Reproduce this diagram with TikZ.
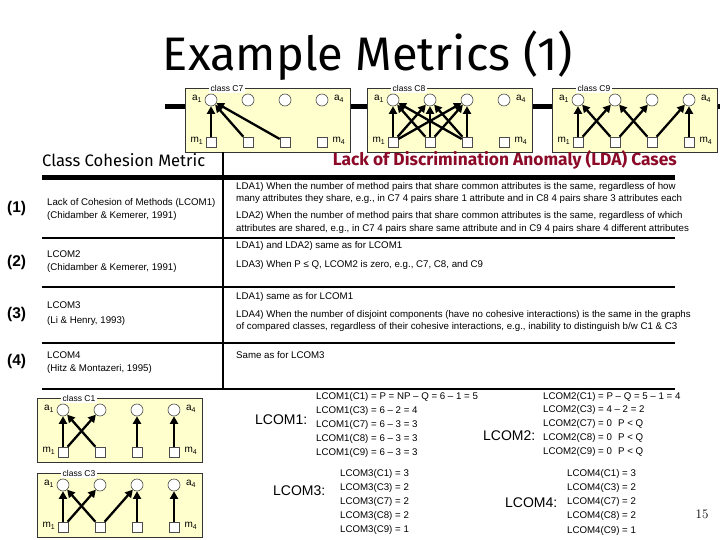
\documentclass[tikz,border=0pt]{standalone}
\usepackage{fontspec}
\newfontfamily\arial{Liberation Sans}
\newfontfamily\dispfont{Fira Sans}
\usetikzlibrary{arrows.meta,calc}
\definecolor{boxfill}{RGB}{255,255,206}
\definecolor{ldared}{RGB}{140,10,40}
\tikzset{
  classbox/.style={draw=black!80, line width=0.8pt, fill=boxfill, minimum width=165pt, minimum height=64pt, anchor=north west, inner sep=0pt},
  classlabel/.style={fill=white, inner sep=1.5pt, font=\arial\fontsize{8.5}{9}\selectfont, anchor=west},
  attr/.style={circle, draw=black!70, fill=white, line width=0.6pt, minimum size=12pt, inner sep=0pt},
  meth/.style={rectangle, draw=black!70, fill=white, line width=0.6pt, minimum size=10pt, inner sep=0pt},
  vlabel/.style={font=\arial\fontsize{10}{10}\selectfont, inner sep=0pt},
  edge/.style={line width=2.3pt, -{Triangle[length=7.5pt,width=8pt]}},
  tabtext/.style={font=\arial\fontsize{9.7}{11}\selectfont, anchor=west, inner sep=0pt},
  rownum/.style={font=\arial\bfseries\fontsize{15.5}{16}\selectfont, anchor=west, inner sep=0pt},
  biglabel/.style={font=\arial\fontsize{14}{15}\selectfont, anchor=west, inner sep=0pt},
  rule/.style={line width=1.2pt},
  thickrule/.style={line width=5pt}
}
\newcommand{\classdiag}[4]{%
  \node[classbox] (#1) at (#2,#3) {};
  \node[classlabel] (#1lab) at ($(#1.north west)+(24,0)$) {#4};
  \foreach \i in {1,2,3,4} {
    \node[attr] (#1a\i) at ($(#1.north west)+(37*\i-11,12)$) {};
    \node[meth] (#1m\i) at ($(#1.north west)+(37*\i-11,54)$) {};
  }
  \node[vlabel] (#1la1) at ($(#1.north west)+(12,11)$) {a\textsubscript{1}};
  \node[vlabel] (#1la4) at ($(#1.north west)+(154,11)$) {a\textsubscript{4}};
  \node[vlabel] (#1lm1) at ($(#1.north west)+(12,53)$) {m\textsubscript{1}};
  \node[vlabel] (#1lm4) at ($(#1.north west)+(154,53)$) {m\textsubscript{4}};
}
\begin{document}
\begin{tikzpicture}[x=1pt,y=-1pt]
\useasboundingbox (0,0) rectangle (720,540);
% title
\node[inner sep=0pt] (title) at (368,56) {\resizebox{410pt}{!}{\dispfont\fontsize{48}{50}\selectfont Example Metrics (1)}};
% bar behind the class boxes
\coordinate (barL) at (165,107);
\coordinate (barR) at (720,107);
\draw[thickrule] (barL) -- (barR);
% class diagrams
\classdiag{C7}{185}{88}{class C7}
\classdiag{C8}{367}{88}{class C8}
\classdiag{C9}{552}{88}{class C9}
\classdiag{C1}{37}{398}{class C1}
\classdiag{C3}{37}{473}{class C3}
% edges C7
\foreach \m in {1,2,3} \draw[edge] (C7m\m) -- (C7a1);
% edges C8
\foreach \m in {1,2,3} \foreach \a in {1,2,3} \draw[edge] (C8m\m) -- (C8a\a);
% edges C9
\foreach \m/\a in {1/1,1/2,2/1,2/3,3/2,3/4,4/4} \draw[edge] (C9m\m) -- (C9a\a);
% edges C1
\foreach \m/\a in {1/1,1/2,2/1,3/3,4/4} \draw[edge] (C1m\m) -- (C1a\a);
% edges C3
\foreach \m/\a in {1/1,1/2,2/1,2/3,3/3,4/4} \draw[edge] (C3m\m) -- (C3a\a);
% headers
\node[anchor=west, inner sep=0pt] (hleft) at (42,160) {\resizebox{163pt}{!}{\dispfont\fontsize{14}{15}\selectfont Class Cohesion Metric}};
\node[anchor=east, inner sep=0pt, text=ldared] (hright) at (677,160) {\resizebox{344pt}{!}{\dispfont\bfseries\fontsize{14}{15}\selectfont Lack of Discrimination Anomaly (LDA) Cases}};
% table rules
\coordinate (tTL) at (42,178);
\coordinate (tTR) at (675,178);
\draw[thickrule] (tTL) -- (tTR);
\coordinate (vT) at (223,152);
\coordinate (vB) at (223,389);
\draw[rule] (vT) -- (vB);
\foreach \yy/\nm in {238/r1,287/r2,343/r3,389/r4} {
  \coordinate (\nm L) at (42,\yy);
  \coordinate (\nm R) at (675,\yy);
  \draw[rule] (\nm L) -- (\nm R);
}
% left column
\node[rownum] (n1) at (7,208) {(1)};
\node[tabtext] (l1a) at (47,203) {Lack of Cohesion of Methods (LCOM1)};
\node[tabtext] (l1b) at (47,216) {(Chidamber \& Kemerer, 1991)};
\node[rownum] (n2) at (7,262) {(2)};
\node[tabtext] (l2a) at (47,254) {LCOM2};
\node[tabtext] (l2b) at (47,268) {(Chidamber \& Kemerer, 1991)};
\node[rownum] (n3) at (7,314) {(3)};
\node[tabtext] (l3a) at (47,305) {LCOM3};
\node[tabtext] (l3b) at (47,321) {(Li \& Henry, 1993)};
\node[rownum] (n4) at (7,361) {(4)};
\node[tabtext] (l4a) at (47,355) {LCOM4};
\node[tabtext] (l4b) at (47,369) {(Hitz \& Montazeri, 1995)};
% right column
\node[tabtext] (r1a) at (236,187) {LDA1) When the number of method pairs that share common attributes is the same, regardless of how};
\node[tabtext] (r1b) at (236,199) {many attributes they share, e.g., in C7 4 pairs share 1 attribute and in C8 4 pairs share 3 attributes each};
\node[tabtext] (r1c) at (236,216) {LDA2) When the number of method pairs that share common attributes is the same, regardless of which};
\node[tabtext] (r1d) at (236,229) {attributes are shared, e.g., in C7 4 pairs share same attribute and in C9 4 pairs share 4 different attributes};
\node[tabtext] (r2a) at (236,246) {LDA1) and LDA2) same as for LCOM1};
\node[tabtext] (r2b) at (236,265) {LDA3) When P ≤ Q, LCOM2 is zero, e.g., C7, C8, and C9};
\node[tabtext] (r3a) at (236,297) {LDA1) same as for LCOM1};
\node[tabtext] (r3b) at (236,315) {LDA4) When the number of disjoint components (have no cohesive interactions) is the same in the graphs};
\node[tabtext] (r3c) at (236,327) {of compared classes, regardless of their cohesive interactions, e.g., inability to distinguish b/w C1 \& C3};
\node[tabtext] (r4a) at (236,355) {Same as for LCOM3};
% LCOM1 block
\node[biglabel] (L1) at (255,420) {LCOM1:};
\node[tabtext] (f11) at (316,397) {LCOM1(C1) = P = NP – Q = 6 – 1 = 5};
\node[tabtext] (f12) at (316,411) {LCOM1(C3) = 6 – 2 = 4};
\node[tabtext] (f13) at (316,425) {LCOM1(C7) = 6 – 3 = 3};
\node[tabtext] (f14) at (316,439) {LCOM1(C8) = 6 – 3 = 3};
\node[tabtext] (f15) at (316,453) {LCOM1(C9) = 6 – 3 = 3};
% LCOM3 block
\node[biglabel] (L3) at (273,491) {LCOM3:};
\node[tabtext] (f31) at (340,474) {LCOM3(C1) = 3};
\node[tabtext] (f32) at (340,488) {LCOM3(C3) = 2};
\node[tabtext] (f33) at (340,502) {LCOM3(C7) = 2};
\node[tabtext] (f34) at (340,516) {LCOM3(C8) = 2};
\node[tabtext] (f35) at (340,530) {LCOM3(C9) = 1};
% LCOM2 block
\node[biglabel] (L2) at (483,436) {LCOM2:};
\node[tabtext] (f21) at (543,397) {LCOM2(C1) = P – Q = 5 – 1 = 4};
\node[tabtext] (f22) at (543,410) {LCOM2(C3) = 4 – 2 = 2};
\node[tabtext] (f23) at (543,424) {LCOM2(C7) = 0};
\node[tabtext] (f24) at (543,438) {LCOM2(C8) = 0};
\node[tabtext] (f25) at (543,452) {LCOM2(C9) = 0};
\node[tabtext] (p3) at (618,424) {P < Q};
\node[tabtext] (p4) at (618,438) {P < Q};
\node[tabtext] (p5) at (618,452) {P < Q};
% LCOM4 block
\node[biglabel] (L4) at (505,503) {LCOM4:};
\node[tabtext] (f41) at (567,474) {LCOM4(C1) = 3};
\node[tabtext] (f42) at (567,488) {LCOM4(C3) = 2};
\node[tabtext] (f43) at (567,502) {LCOM4(C7) = 2};
\node[tabtext] (f44) at (567,516) {LCOM4(C8) = 2};
\node[tabtext] (f45) at (567,531) {LCOM4(C9) = 1};
% page number
\node[font=\fontsize{13}{14}\selectfont, inner sep=0pt] (pg) at (702,514) {15};
\end{tikzpicture}
\end{document}
